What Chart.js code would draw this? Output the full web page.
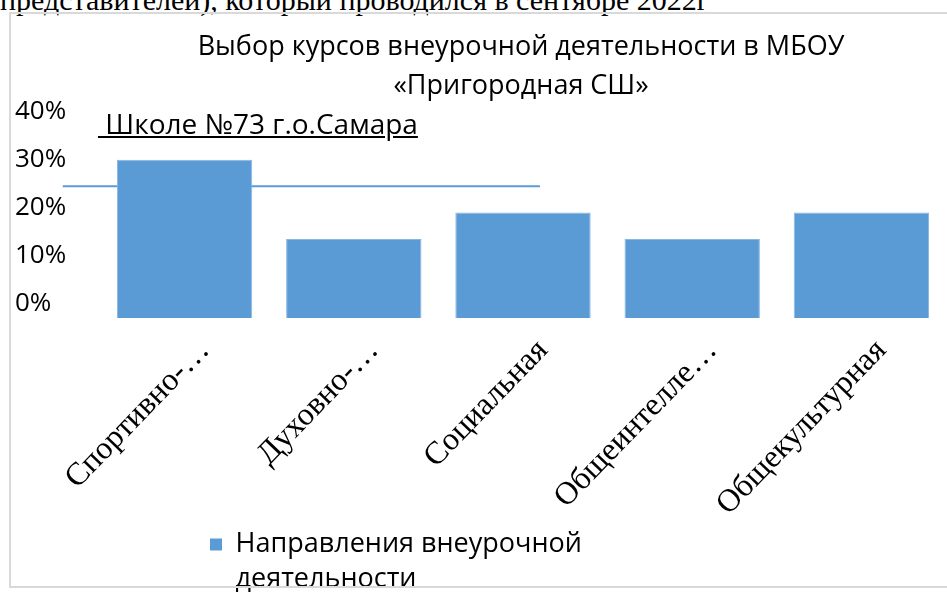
<!DOCTYPE html>
<html>
<head>
<meta charset="utf-8">
<script src="https://cdn.jsdelivr.net/npm/chart.js@4/dist/chart.umd.min.js"></script>
<style>
  html, body { margin: 0; padding: 0; background: #fff; width: 947px; height: 594px; overflow: hidden; }
  .doc-line { position: absolute; left: 0; top: -16px; font-family: "Liberation Serif", serif; font-size: 30px; line-height: 32px; white-space: nowrap; color: #000; }
  .frame { position: absolute; left: 9px; top: 12px; width: 1100px; height: 576px; border: 2px solid #d9d9d9; box-sizing: border-box; pointer-events: none; z-index: 2; }
  .wrap { position: absolute; left: 11px; top: 14px; width: 1016px; height: 580px; }
  .note { position: absolute; left: 98px; top: 106px; font-family: "Open Sans", sans-serif; font-size: 28px; line-height: 34px; white-space: pre; text-decoration: underline; color: #000; z-index: 3; }
</style>
</head>
<body>
<div class="doc-line">представителей), который проводился в сентябре 2022г</div>
<div class="wrap"><canvas id="chart"></canvas></div>
<div class="note"> Школе №73 г.о.Самара</div>
<div class="frame"></div>

<script>
// данные диаграммы
const categories = ['Спортивно-…', 'Духовно-…', 'Социальная', 'Общеинтелле…', 'Общекультурная'];
const shares = [30, 13.5, 19, 13.5, 19];
const seriesName = ['Направления внеурочной', 'деятельности'];
const titleLines = ['Выбор курсов внеурочной деятельности в МБОУ', '«Пригородная СШ»'];
const yTickValues = [0, 10, 20, 30, 40];
// горизонтальная линия поверх диаграммы (в единицах осей)
const guideX = [-0.72, 2.1];
const guideY = [24.5, 24.5];

const BLUE = '#5b9bd5';

// legend sits left of centre in the original, move it there
const legendPlace = {
    id: 'legendPlace',
    afterLayout(chart) {
        const lg = chart.legend;
        const w = lg.right - lg.left;
        lg.left = 189;
        lg.right = lg.left + w;
        lg.top = 507;
        lg.bottom = chart.height;
        lg.height = lg.bottom - lg.top;
    }
};

new Chart(document.getElementById('chart'), {
    data: {
        labels: categories,
        datasets: [{
            type: 'bar',
            label: seriesName.join(' '),
            data: shares,
            backgroundColor: BLUE,
            borderColor: '#86b6e3',
            borderWidth: 1,
            grouped: false,
            categoryPercentage: 1,
            barPercentage: 0.8,
            base: -3,
            order: 1
        }, {
            type: 'line',
            label: 'guide',
            xAxisID: 'xl',
            data: guideX.map((x, i) => ({ x: x, y: guideY[i] })),
            borderColor: BLUE,
            borderWidth: 2,
            pointRadius: 0,
            clip: false,
            order: 2
        }]
    },
    options: {
        responsive: true,
        maintainAspectRatio: false,
        animation: false,
        layout: { padding: { left: 4, right: 0, top: 0, bottom: 0 } },
        plugins: {
            tooltip: { enabled: false },
            title: {
                display: true,
                text: titleLines,
                color: '#000',
                font: { family: 'Open Sans', size: 27, weight: 'normal', lineHeight: 1.45 },
                padding: { top: 13.5, bottom: 6 }
            },
            legend: {
                position: 'bottom',
                align: 'start',
                labels: {
                    color: '#000',
                    boxWidth: 12,
                    boxHeight: 12,
                    padding: 10,
                    font: { family: 'Open Sans', size: 27, lineHeight: 1.3 },
                    filter: item => item.datasetIndex === 0,
                    generateLabels(chart) {
                        const items = Chart.defaults.plugins.legend.labels.generateLabels(chart);
                        items.forEach(it => { if (it.datasetIndex === 0) it.text = seriesName; it.lineWidth = 0; });
                        return items;
                    }
                }
            }
        },
        scales: {
            x: {
                type: 'category',
                offset: true,
                grid: { display: false },
                border: { display: false },
                ticks: {
                    color: '#000',
                    autoSkip: false,
                    minRotation: 46,
                    maxRotation: 46,
                    labelOffset: 20,
                    padding: 6,
                    font: { family: 'Liberation Serif', size: 32 }
                },
                afterFit: s => { s.height = 229; }
            },
            xl: {
                type: 'linear',
                display: false,
                min: -0.5,
                max: 4.5
            },
            y: {
                min: -3,
                max: 40,
                grid: { display: false },
                border: { display: false },
                ticks: {
                    color: '#000',
                    crossAlign: 'far',
                    font: { family: 'Open Sans', size: 26 },
                    callback: v => v + '%'
                },
                afterBuildTicks: s => { s.ticks = yTickValues.map(v => ({ value: v })); },
                afterFit: s => { s.width = 85; }
            },
            // empty space on the right, keeps the title centred on the whole box
            yr: {
                type: 'linear',
                position: 'right',
                grid: { display: false },
                border: { display: false },
                ticks: { display: false },
                afterFit: s => { s.width = 81; }
            }
        }
    },
    plugins: [legendPlace]
});
</script>
</body>
</html>
